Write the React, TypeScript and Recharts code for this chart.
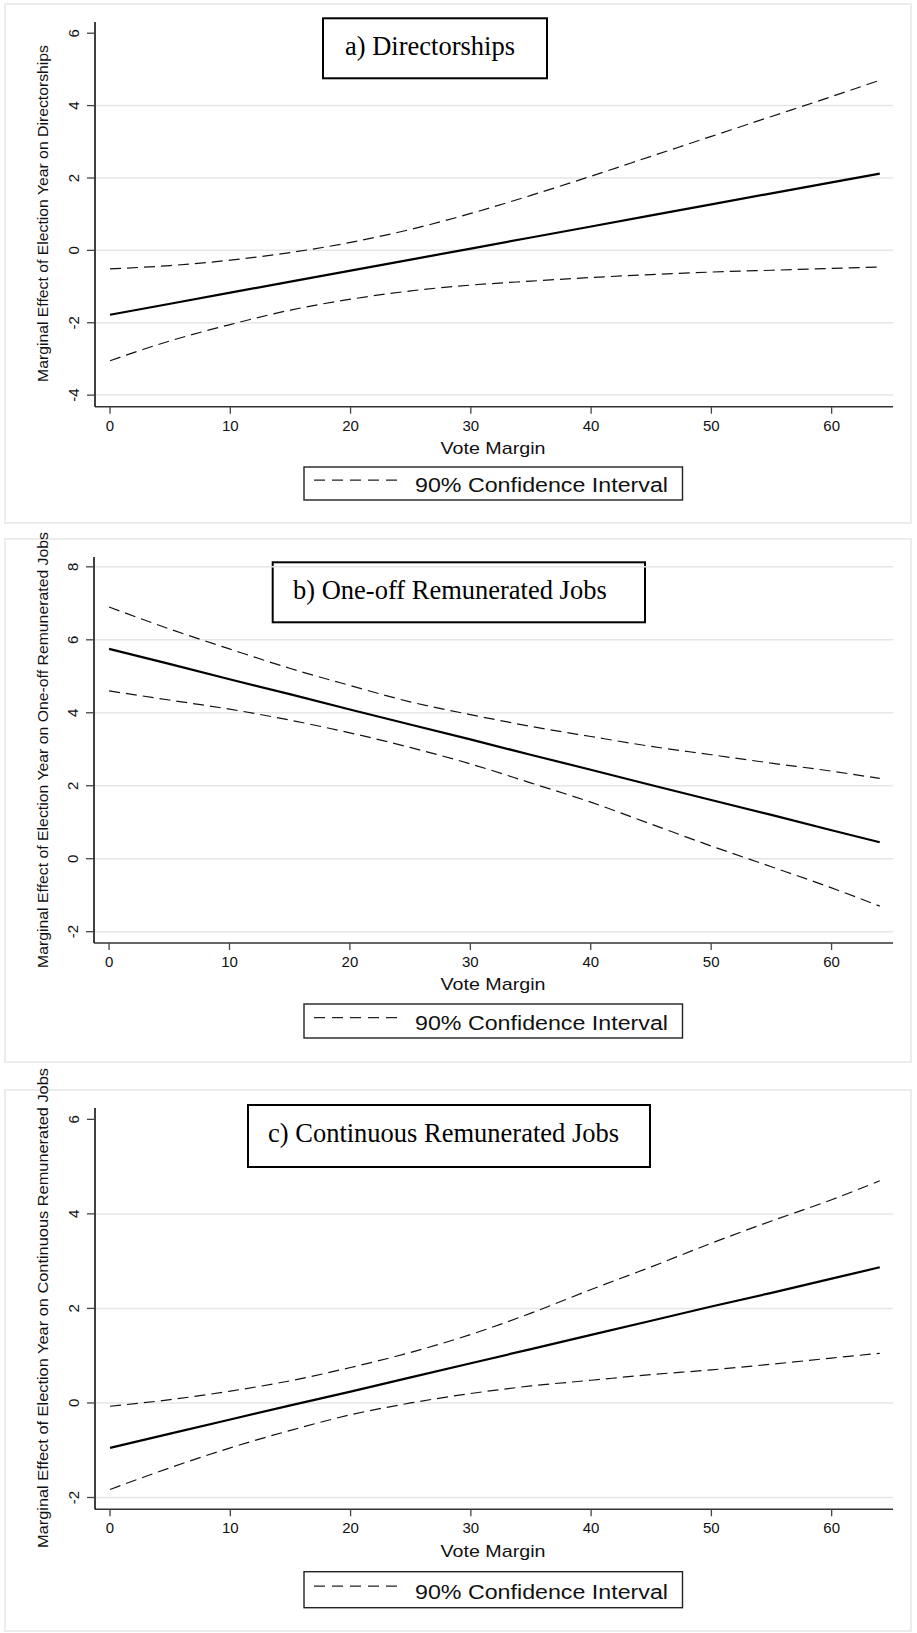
import { Customized, Line, LineChart, ReferenceLine, XAxis, YAxis } from "recharts";

// vote margin grid used when reading the curves off the picture
const voteMargin = [0, 5, 10, 15, 20, 25, 30, 35, 40, 45, 50, 55, 60, 64];
const xTicks = [0, 10, 20, 30, 40, 50, 60];

// a) Directorships
const directorshipsEffect = [-1.78, -1.475, -1.17, -0.865, -0.56, -0.255, 0.05, 0.355, 0.66, 0.965, 1.27, 1.575, 1.88, 2.12];
const directorshipsUpper = [-0.51, -0.42, -0.27, -0.06, 0.22, 0.58, 1.02, 1.52, 2.05, 2.6, 3.15, 3.7, 4.25, 4.7];
const directorshipsLower = [-3.05, -2.5, -2.05, -1.65, -1.35, -1.12, -0.96, -0.85, -0.75, -0.67, -0.6, -0.55, -0.5, -0.46];
const directorshipsTicks = [-4, -2, 0, 2, 4, 6];
const directorshipsGrid = [-4, -2, 0, 2, 4];

// b) One-off remunerated jobs
const oneOffEffect = [5.75, 5.34, 4.92, 4.51, 4.09, 3.68, 3.27, 2.85, 2.44, 2.02, 1.61, 1.2, 0.78, 0.45];
const oneOffUpper = [6.9, 6.3, 5.75, 5.22, 4.75, 4.3, 3.95, 3.63, 3.35, 3.08, 2.85, 2.62, 2.4, 2.2];
const oneOffLower = [4.6, 4.35, 4.1, 3.8, 3.45, 3.05, 2.6, 2.08, 1.55, 0.95, 0.35, -0.22, -0.8, -1.3];
const oneOffTicks = [-2, 0, 2, 4, 6, 8];
const oneOffGrid = [-2, 0, 2, 4, 6, 8];

// c) Continuous remunerated jobs
const continuousEffect = [-0.95, -0.65, -0.35, -0.05, 0.24, 0.54, 0.84, 1.14, 1.44, 1.74, 2.04, 2.33, 2.63, 2.87];
const continuousUpper = [-0.07, 0.07, 0.25, 0.47, 0.75, 1.07, 1.45, 1.9, 2.4, 2.88, 3.38, 3.85, 4.3, 4.7];
const continuousLower = [-1.83, -1.37, -0.95, -0.58, -0.25, 0.0, 0.2, 0.36, 0.48, 0.6, 0.7, 0.82, 0.95, 1.05];
const continuousTicks = [-2, 0, 2, 4, 6];
const continuousGrid = [-2, 0, 2, 4];

const SANS = "'Liberation Sans', Arial, sans-serif";
const SERIF = "'Liberation Serif', 'Times New Roman', serif";

const toRows = (est: number[], upper: number[], lower: number[]) =>
  voteMargin.map((x, i) => ({ x, est: est[i], upper: upper[i], lower: lower[i] }));

const renderYTick = (props: any) => {
  const { x, y, payload } = props;
  const cx = x - 11;
  return (
    <text x={cx} y={y} transform={`rotate(-90 ${cx} ${y})`} textAnchor="middle" dominantBaseline="central" fontSize={15} fontFamily={SANS} fill="#111">
      {payload.value}
    </text>
  );
};

const renderXTick = (props: any) => {
  const { x, y, payload } = props;
  return (
    <text x={x} y={y + 15} textAnchor="middle" fontSize={15} fontFamily={SANS} fill="#111">
      {payload.value}
    </text>
  );
};

type PanelProps = {
  top: number;
  height: number;
  axisX: number;
  bottomMargin: number;
  title: string;
  titleBox: { x: number; y: number; w: number; h: number; tx: number; ty: number };
  yLabel: string;
  yLabelCY: number;
  yLabelLen: number;
  xTitleY: number;
  legendY: number;
  legendH: number;
  domain: [number, number];
  ticks: number[];
  grid: number[];
  rows: any[];
};

function Overlay(p: PanelProps) {
  const { titleBox, legendY, legendH } = p;
  return (
    <g>
      <rect x={titleBox.x} y={titleBox.y} width={titleBox.w} height={titleBox.h} fill="#fff" stroke="#000" strokeWidth={2} />
      <text x={titleBox.tx} y={titleBox.ty} fontSize={26.5} fontFamily={SERIF} fill="#000">
        {p.title}
      </text>
      <text x={38} y={p.yLabelCY} transform={`rotate(-90 38 ${p.yLabelCY})`} textAnchor="middle" dominantBaseline="central" fontSize={15.5} fontFamily={SANS} fill="#111" textLength={p.yLabelLen} lengthAdjust="spacingAndGlyphs">
        {p.yLabel}
      </text>
      <text x={489} y={p.xTitleY} textAnchor="middle" fontSize={17} fontFamily={SANS} fill="#111" textLength={105} lengthAdjust="spacingAndGlyphs">
        Vote Margin
      </text>
      <rect x={300} y={legendY} width={378.5} height={legendH} fill="#fff" stroke="#222" strokeWidth={1.4} />
      <line x1={310} x2={398} y1={legendY + legendH * 0.4} y2={legendY + legendH * 0.4} stroke="#222" strokeWidth={1.2} strokeDasharray="11 7" />
      <text x={411} y={legendY + legendH * 0.75} fontSize={20} fontFamily={SANS} fill="#111" textLength={253} lengthAdjust="spacingAndGlyphs">
        90% Confidence Interval
      </text>
    </g>
  );
}

function Panel(p: PanelProps) {
  const yWidth = 60;
  return (
    <div style={{ position: "absolute", left: 4, top: p.top, width: 908, height: p.height, outline: "2px solid #ececec", outlineOffset: -2 }}>
      <LineChart width={908} height={p.height} data={p.rows} margin={{ top: 19, right: 19, left: p.axisX - yWidth, bottom: p.bottomMargin }}>
        {p.grid.map((g) => (
          <ReferenceLine key={g} y={g} stroke="#e6e6e6" strokeWidth={1.5} />
        ))}
        <XAxis
          type="number"
          dataKey="x"
          domain={[-1.25, 65.1]}
          allowDataOverflow
          ticks={xTicks}
          interval={0}
          height={30}
          tickSize={7}
          axisLine={{ stroke: "#333", strokeWidth: 1.5 }}
          tickLine={{ stroke: "#444", strokeWidth: 1.3 }}
          tick={renderXTick}
        />
        <YAxis
          type="number"
          domain={p.domain}
          allowDataOverflow
          ticks={p.ticks}
          interval={0}
          width={yWidth}
          tickSize={8}
          axisLine={{ stroke: "#000", strokeWidth: 1.5 }}
          tickLine={{ stroke: "#444", strokeWidth: 1.3 }}
          tick={renderYTick}
        />
        <Line type="monotone" dataKey="upper" stroke="#111" strokeWidth={1.2} strokeDasharray="11 6" dot={false} isAnimationActive={false} />
        <Line type="monotone" dataKey="lower" stroke="#111" strokeWidth={1.2} strokeDasharray="11 6" dot={false} isAnimationActive={false} />
        <Line type="linear" dataKey="est" stroke="#000" strokeWidth={2.2} dot={false} isAnimationActive={false} />
        <Customized component={<Overlay {...p} />} />
      </LineChart>
    </div>
  );
}

export default function App() {
  return (
    <div style={{ position: "absolute", left: 0, top: 0, width: 917, height: 1633, background: "#fff" }}>
      <style>{`.recharts-surface { overflow: visible; } .recharts-wrapper { overflow: visible; }`}</style>
      <Panel
        top={3}
        height={521}
        axisX={91}
        bottomMargin={87.3}
        title="a) Directorships"
        titleBox={{ x: 319, y: 15.3, w: 224, h: 60, tx: 341, ty: 52 }}
        yLabel="Marginal Effect of Election Year on Directorships"
        yLabelCY={210.5}
        yLabelLen={337}
        xTitleY={451}
        legendY={464}
        legendH={33}
        domain={[-4.32, 6.31]}
        ticks={directorshipsTicks}
        grid={directorshipsGrid}
        rows={toRows(directorshipsEffect, directorshipsUpper, directorshipsLower)}
      />
      <Panel
        top={538}
        height={525}
        axisX={90}
        bottomMargin={90}
        title="b) One-off Remunerated Jobs"
        titleBox={{ x: 268.7, y: 24.3, w: 372.3, h: 60, tx: 289, ty: 61 }}
        yLabel="Marginal Effect of Election Year on One-off Remunerated Jobs"
        yLabelCY={212}
        yLabelLen={436}
        xTitleY={452.3}
        legendY={466}
        legendH={34}
        domain={[-2.31, 8.27]}
        ticks={oneOffTicks}
        grid={oneOffGrid}
        rows={toRows(oneOffEffect, oneOffUpper, oneOffLower)}
      />
      <Panel
        top={1089}
        height={543}
        axisX={91}
        bottomMargin={92.7}
        title="c) Continuous Remunerated Jobs"
        titleBox={{ x: 244, y: 16, w: 402, h: 62, tx: 264, ty: 53 }}
        yLabel="Marginal Effect of Election Year on Continuous Remunerated Jobs"
        yLabelCY={219}
        yLabelLen={480}
        xTitleY={467.6}
        legendY={482.7}
        legendH={36}
        domain={[-2.25, 6.24]}
        ticks={continuousTicks}
        grid={continuousGrid}
        rows={toRows(continuousEffect, continuousUpper, continuousLower)}
      />
    </div>
  );
}
